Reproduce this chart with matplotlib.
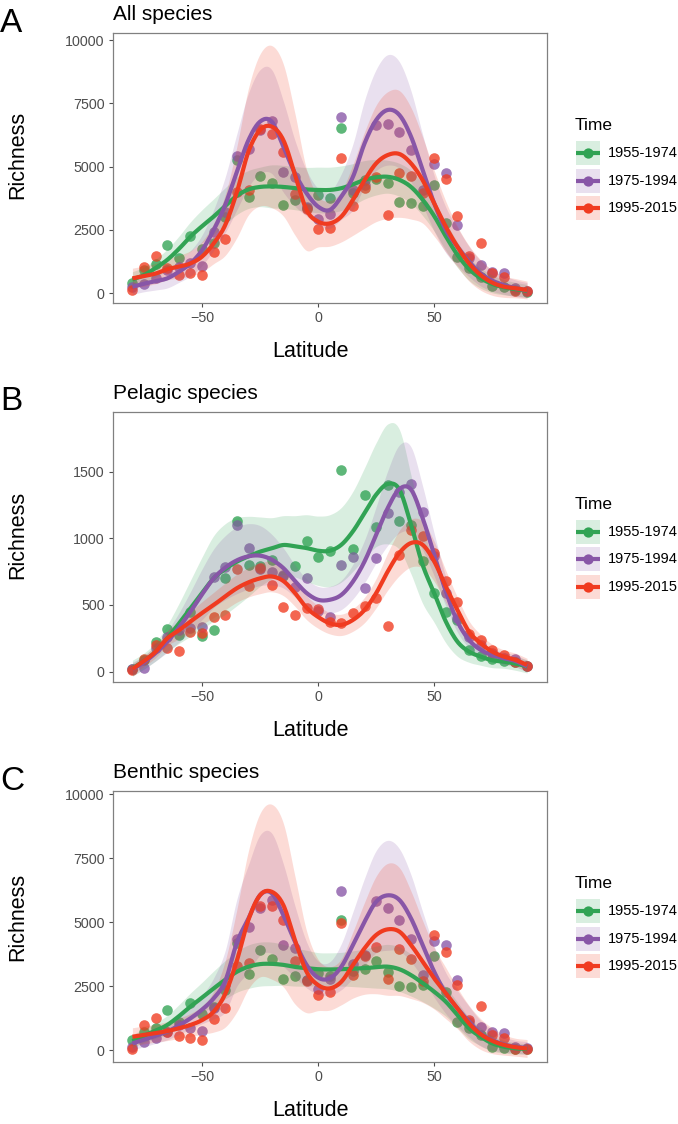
import numpy as np
import matplotlib
matplotlib.use('Agg')
import matplotlib.pyplot as plt
from matplotlib.patches import Rectangle
from matplotlib.lines import Line2D

plt.rcParams['font.family'] = ['Liberation Sans', 'DejaVu Sans']

# latitude bins (5 degree steps)
lat = list(range(-80, 95, 5))

periods = ['1955-1974', '1975-1994', '1995-2015']
colors = ['#31a354', '#8856a7', '#f03b20']

# ---- A: all species ----
pts_all_1955 = [420, 900, 1150, 1900, 1380, 2280, 1730, 2000, 3000, 5250, 3800, 4630, 4350, 3500, 3670, 3350, 3900, 3780,
                6520, 3960, 4460, 4530, 4360, 3610, 3570, 3440, 4260, 2780, 1440, 980, 650, 290, 240, 130, 60]
pts_all_1975 = [240, 370, 590, 920, 1050, 1180, 1090, 2430, 3210, 5440, 5680, 6430, 6820, 4790, 4590, 3410, 2950, 3150,
                6980, 4070, 4260, 6630, 6690, 6360, 5670, 4090, 5120, 4750, 2690, 1380, 1120, 850, 810, 200, 100]
pts_all_1995 = [130, 1050, 1470, 980, 720, 790, 710, 1640, 2130, 4000, 4070, 6490, 6300, 5580, 3910, 3320, 2550, 2560,
                5340, 3460, 4170, 4590, 3110, 4750, 4620, 3960, 5350, 4500, 3040, 1470, 1970, 790, 660, 100, 100]
fit_all_1955 = [550, 720, 1000, 1320, 1750, 2240, 2650, 3030, 3450, 3850, 4100, 4200, 4220, 4200, 4150, 4100, 4080, 4080,
                4150, 4300, 4480, 4580, 4600, 4480, 4200, 3700, 3050, 2250, 1520, 960, 600, 370, 240, 160, 100]
fit_all_1975 = [260, 380, 480, 590, 850, 1180, 1700, 2500, 3500, 4800, 6050, 6780, 6780, 5790, 4740, 3950, 3420, 3290,
                3820, 4600, 5920, 6840, 7240, 7040, 6190, 4870, 3550, 2500, 1840, 1250, 790, 500, 330, 200, 120]
fit_all_1995 = [590, 680, 780, 950, 1050, 1180, 1450, 1970, 2700, 4000, 5600, 6450, 6580, 6050, 4700, 3290, 2830, 2760,
                3030, 3690, 4470, 5130, 5460, 5500, 5130, 4470, 3550, 2630, 1840, 1180, 720, 420, 260, 200, 130]
se_all_1955 = [300, 320, 350, 420, 500, 580, 650, 700, 720, 740, 750, 780, 850, 850, 850, 870, 900, 900,
               880, 820, 760, 700, 650, 650, 650, 630, 600, 560, 500, 450, 400, 350, 300, 270, 250]
se_all_1975 = [300, 320, 350, 380, 420, 500, 600, 800, 1100, 1500, 1850, 2050, 2050, 1800, 1300, 900, 720, 720,
               900, 1300, 1700, 2000, 2180, 2100, 1800, 1400, 1100, 900, 750, 600, 500, 420, 370, 330, 300]
se_all_1995 = [400, 400, 400, 420, 450, 500, 600, 800, 1200, 1800, 2500, 3000, 3200, 3000, 2400, 1600, 1000, 900,
               1000, 1400, 1900, 2300, 2500, 2500, 2200, 1700, 1300, 1000, 800, 700, 600, 500, 420, 380, 350]

# ---- B: pelagic species ----
pts_pel_1955 = [20, 90, 225, 318, 275, 450, 270, 313, 700, 1130, 800, 790, 840, 720, 793, 977, 860, 907,
                1511, 920, 1328, 1083, 1403, 1128, 1100, 830, 589, 451, 388, 160, 120, 95, 80, 70, 40]
pts_pel_1975 = [18, 25, 180, 263, 310, 325, 338, 713, 788, 1100, 925, 768, 750, 725, 638, 702, 458, 413,
                800, 860, 631, 852, 1190, 1350, 1408, 1198, 870, 590, 400, 260, 200, 140, 105, 93, 40]
pts_pel_1995 = [10, 93, 200, 180, 155, 300, 288, 408, 425, 768, 643, 775, 650, 483, 425, 480, 470, 375,
                363, 439, 489, 556, 346, 877, 1065, 1015, 890, 677, 526, 281, 238, 163, 125, 75, 40]
fit_pel_1955 = [25, 80, 150, 250, 360, 475, 590, 700, 770, 825, 865, 900, 925, 950, 940, 927, 907, 907,
                952, 1053, 1190, 1328, 1408, 1366, 1103, 802, 589, 376, 225, 150, 113, 85, 75, 60, 40]
fit_pel_1975 = [20, 70, 140, 225, 330, 450, 580, 700, 780, 835, 865, 870, 840, 777, 680, 590, 539, 539,
                576, 676, 827, 1027, 1228, 1370, 1366, 1153, 877, 601, 376, 238, 163, 125, 100, 80, 40]
fit_pel_1995 = [20, 80, 150, 250, 310, 376, 440, 500, 565, 626, 670, 700, 714, 680, 590, 480, 410, 363,
                351, 388, 463, 589, 752, 890, 965, 952, 827, 639, 463, 300, 213, 150, 113, 88, 50]
se_pel_1955 = [60, 60, 70, 100, 150, 210, 270, 320, 340, 330, 300, 260, 230, 220, 230, 250, 260, 270,
               280, 300, 340, 390, 450, 450, 370, 290, 220, 160, 110, 80, 65, 55, 50, 50, 50]
se_pel_1975 = [50, 50, 60, 80, 110, 150, 190, 220, 240, 250, 245, 225, 190, 150, 120, 105, 100, 100,
               110, 130, 160, 210, 280, 330, 320, 240, 160, 110, 80, 60, 50, 45, 45, 45, 45]
se_pel_1995 = [40, 40, 45, 55, 65, 75, 85, 95, 100, 105, 110, 115, 115, 110, 100, 90, 85, 80,
               80, 85, 95, 110, 140, 170, 180, 175, 150, 120, 95, 80, 65, 55, 50, 50, 50]

# ---- C: benthic species ----
pts_ben_1955 = [390, 700, 850, 1560, 1100, 1820, 1390, 1700, 2340, 4200, 2970, 3910, 3550, 2790, 2900, 2730, 3000, 2900,
                5070, 3100, 3180, 3470, 3050, 2510, 2470, 2560, 3680, 2250, 1080, 845, 585, 130, 65, 50, 30]
pts_ben_1975 = [130, 320, 455, 715, 975, 845, 755, 1660, 2560, 4350, 4810, 5550, 5850, 4090, 3990, 2730, 2400, 2790,
                6210, 3380, 3700, 5820, 5550, 5070, 4350, 2920, 4250, 4090, 2720, 1100, 910, 690, 650, 100, 60]
pts_ben_1995 = [40, 975, 1260, 715, 560, 455, 390, 1210, 1650, 3290, 3420, 5650, 5650, 5070, 3470, 2690, 2170, 2270,
                4960, 2950, 3680, 4030, 2790, 3940, 3570, 2690, 4510, 3830, 2560, 1170, 1730, 585, 480, 30, 40]
fit_ben_1955 = [350, 560, 760, 980, 1320, 1700, 2050, 2410, 2750, 3060, 3260, 3360, 3370, 3330, 3250, 3200, 3160, 3150,
                3160, 3180, 3200, 3240, 3260, 3160, 2930, 2620, 2280, 1890, 1370, 850, 520, 260, 130, 65, 40]
fit_ben_1975 = [260, 400, 560, 720, 960, 1240, 1580, 2020, 2700, 4200, 5150, 6060, 6130, 5280, 4240, 3330, 2830, 2800,
                3260, 4110, 5020, 5800, 6050, 5870, 5150, 4110, 3060, 2220, 1630, 1110, 650, 390, 220, 130, 80]
fit_ben_1995 = [520, 590, 660, 740, 850, 980, 1170, 1500, 2200, 3500, 5100, 6060, 6190, 5670, 4300, 3060, 2540, 2410,
                2670, 3330, 3980, 4500, 4720, 4630, 4110, 3460, 2800, 2220, 1630, 1040, 620, 360, 200, 110, 60]
se_ben_1955 = [250, 270, 300, 370, 450, 530, 600, 680, 750, 800, 850, 860, 850, 800, 750, 700, 650, 650,
               660, 700, 750, 820, 870, 870, 820, 730, 650, 570, 500, 420, 350, 300, 250, 220, 200]
se_ben_1975 = [250, 270, 300, 320, 350, 420, 550, 800, 1200, 1700, 2100, 2350, 2350, 2000, 1400, 900, 650, 650,
               900, 1300, 1700, 2000, 2150, 2000, 1700, 1300, 1000, 800, 700, 600, 500, 400, 300, 250, 250]
se_ben_1995 = [350, 350, 350, 370, 400, 450, 550, 800, 1300, 2000, 2700, 3200, 3420, 3200, 2500, 1600, 1000, 850,
               900, 1300, 1800, 2300, 2580, 2500, 2100, 1600, 1200, 1000, 800, 700, 600, 500, 400, 350, 350]

panels = [
    ('A', 'All species', [pts_all_1955, pts_all_1975, pts_all_1995], [fit_all_1955, fit_all_1975, fit_all_1995],
     [se_all_1955, se_all_1975, se_all_1995], (-395, 10265), [0, 2500, 5000, 7500, 10000], 33.3, 303.3, 154.5),
    ('B', 'Pelagic species', [pts_pel_1955, pts_pel_1975, pts_pel_1995], [fit_pel_1955, fit_pel_1975, fit_pel_1995],
     [se_pel_1955, se_pel_1975, se_pel_1995], (-80, 1950), [0, 500, 1000, 1500], 411.7, 682.3, 535),
    ('C', 'Benthic species', [pts_ben_1955, pts_ben_1975, pts_ben_1995], [fit_ben_1955, fit_ben_1975, fit_ben_1995],
     [se_ben_1955, se_ben_1975, se_ben_1995], (-457, 10130), [0, 2500, 5000, 7500, 10000], 791.0, 1061.7, 917),
]

W, H = 678, 1124


def fx(px):
    return px / W


def fy(py):
    return 1 - py / H


def smooth(y, n=12):
    # cubic hermite (catmull-rom) curve through the read-off fit values
    y = np.asarray(y, float)
    m = np.gradient(y)
    t = np.linspace(0, 1, n, endpoint=False)
    h00 = 2 * t**3 - 3 * t**2 + 1
    h10 = t**3 - 2 * t**2 + t
    h01 = -2 * t**3 + 3 * t**2
    h11 = t**3 - t**2
    segs = [h00 * y[i] + h10 * m[i] + h01 * y[i + 1] + h11 * m[i + 1] for i in range(len(y) - 1)]
    segs.append([y[-1]])
    xs = np.linspace(lat[0], lat[-1], (len(y) - 1) * n + 1)
    return xs, np.concatenate(segs)


fig = plt.figure(figsize=(W / 100, H / 100), dpi=100)
left, right = 112.7, 546.8

for letter, title, pts, fits, ses, ylim, yticks, top, bottom, ylab_y in panels:
    ax = fig.add_axes([fx(left), fy(bottom), (right - left) / W, (bottom - top) / H])
    for p, c in zip(pts, colors):
        ax.scatter(lat, p, s=58, color=c, alpha=0.78, linewidths=0, zorder=2)
    for f, s, c in zip(fits, ses, colors):
        f = np.asarray(f, float)
        s = np.asarray(s, float)
        xs, lo = smooth(f - s)
        _, hi = smooth(f + s)
        _, mid = smooth(f)
        ax.fill_between(xs, lo, hi, color=c, alpha=0.18, linewidth=0, zorder=3)
        ax.plot(xs, mid, color=c, lw=3.0, solid_capstyle='butt', zorder=4)
    ax.set_xlim(-88.5, 98.5)
    ax.set_ylim(*ylim)
    ax.set_xticks([-50, 0, 50])
    ax.set_yticks(yticks)
    ax.tick_params(length=3.2, width=0.8, color='#4d4d4d', labelcolor='#4d4d4d', labelsize=10.3, pad=2.5)
    for sp in ax.spines.values():
        sp.set_color('#808080')
        sp.set_linewidth(0.9)

    # panel letter, title, axis titles
    fig.text(fx(0), fy(top - 1.5), letter, fontsize=24, va='baseline', ha='left')
    fig.text(fx(left), fy(top - 13), title, fontsize=15, va='baseline', ha='left')
    fig.text(fx(17.5), fy(ylab_y), 'Richness', fontsize=15.5, rotation=90, ha='center', va='center')
    fig.text(fx(311), fy(bottom + 54), 'Latitude', fontsize=15.5, ha='center', va='baseline')

    # legend
    mid_y = (top + bottom) / 2
    fig.text(fx(575), fy(mid_y - 38.3), 'Time', fontsize=12.5, va='baseline', ha='left')
    for k, (lab, c) in enumerate(zip(periods, colors)):
        cy = mid_y - 15 + 27.3 * k
        fig.add_artist(Rectangle((fx(576), fy(cy + 12)), 24 / W, 24 / H, transform=fig.transFigure,
                                 facecolor=c, alpha=0.18, edgecolor='none'))
        fig.add_artist(Line2D([fx(576), fx(600)], [fy(cy), fy(cy)], transform=fig.transFigure,
                              color=c, lw=3.0, solid_capstyle='butt'))
        fig.add_artist(Line2D([fx(588)], [fy(cy)], transform=fig.transFigure, marker='o',
                              markersize=7.4, markeredgewidth=0, color=c))
        fig.text(fx(608), fy(cy), lab, fontsize=10.5, va='center', ha='left')

fig.savefig('out.png', dpi=100)
